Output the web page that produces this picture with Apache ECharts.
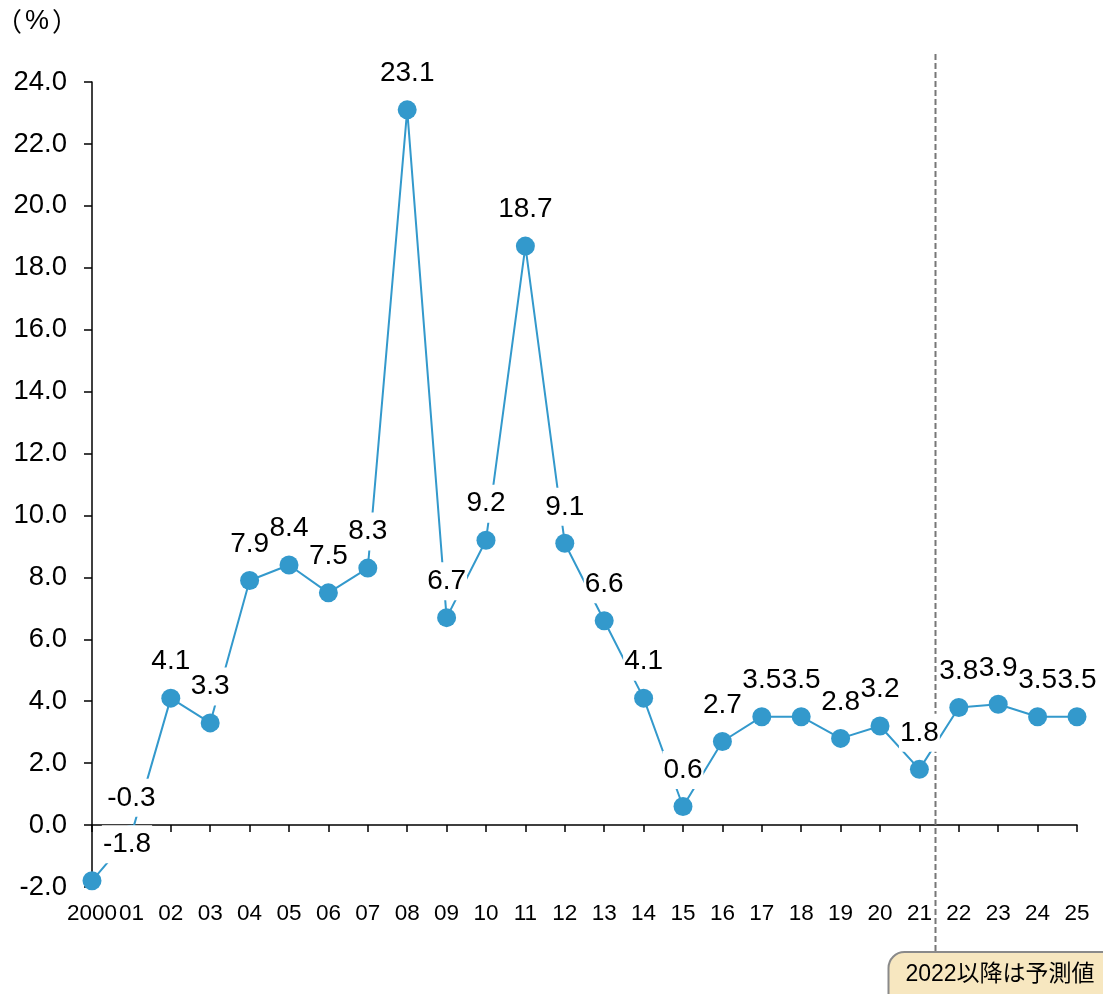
<!DOCTYPE html>
<html>
<head>
<meta charset="utf-8">
<script src="https://cdn.jsdelivr.net/npm/echarts@6/dist/echarts.min.js"></script>
<style>
  html, body { margin: 0; padding: 0; background: #fff; }
  #chart { width: 1103px; height: 994px; }
</style>
</head>
<body>
<div id="chart"></div>
<script>
// Year-on-year change (%), 2000–2025; 2022 onward are forecasts
const categories = ['2000', '01', '02', '03', '04', '05', '06', '07', '08', '09', '10',
  '11', '12', '13', '14', '15', '16', '17', '18', '19', '20', '21', '22', '23', '24', '25'];
const values = [-1.8, -0.3, 4.1, 3.3, 7.9, 8.4, 7.5, 8.3, 23.1, 6.7, 9.2,
  18.7, 9.1, 6.6, 4.1, 0.6, 2.7, 3.5, 3.5, 2.8, 3.2, 1.8, 3.8, 3.9, 3.5, 3.5];
const yTicks = { min: -2, max: 24, step: 2 };
const unitText = '{p|（}{u|%}{p|）}';
const forecastText = '2022以降は予測値';
const lastActual = '21';
const firstForecast = '22';

const FONT = "Liberation Sans, Arial, Noto Sans CJK JP, sans-serif";
const CJK_FONT = "Noto Sans CJK JP, Liberation Sans, sans-serif";
const BLUE = '#3399CC';

const chart = echarts.init(document.getElementById('chart'), null, { renderer: 'canvas' });

const option = {
  animation: false,
  backgroundColor: '#fff',
  title: {
    text: unitText,
    left: -4,
    top: 8,
    padding: 0,
    textStyle: {
      rich: {
        p: { fontSize: 26, fontFamily: CJK_FONT, color: '#000', fontWeight: 'normal' },
        u: { fontSize: 27, fontFamily: FONT, color: '#000', fontWeight: 'normal', padding: [0, 3, 0, 3] }
      }
    }
  },
  grid: { left: 92, right: 26, top: 82, bottom: 107, containLabel: false },
  xAxis: [
    {
      type: 'category',
      data: categories,
      boundaryGap: false,
      position: 'bottom',
      axisLine: { show: false, onZero: false },
      axisTick: { show: false },
      axisLabel: { color: '#000', fontSize: 22.5, fontFamily: FONT, margin: 16, interval: 0 },
      splitLine: { show: false }
    },
    {
      type: 'category',
      data: categories,
      boundaryGap: false,
      position: 'bottom',
      axisLine: { show: true, onZero: true, lineStyle: { color: '#000', width: 1.5 } },
      axisTick: { show: true, length: 7, interval: 0, lineStyle: { color: '#000', width: 1.5 } },
      axisLabel: { show: false },
      splitLine: { show: false }
    }
  ],
  yAxis: {
    type: 'value',
    min: yTicks.min,
    max: yTicks.max,
    interval: yTicks.step,
    axisLine: { show: true, onZero: false, lineStyle: { color: '#000', width: 1.5 } },
    axisTick: { show: true, length: 8, lineStyle: { color: '#000', width: 1.5 } },
    axisLabel: {
      color: '#000', fontSize: 27.5, fontFamily: FONT, margin: 25,
      formatter: v => v.toFixed(1)
    },
    splitLine: { show: false }
  },
  series: [
    {
      type: 'line',
      xAxisIndex: 0,
      yAxisIndex: 0,
      data: values,
      z: 3,
      symbol: 'circle',
      symbolSize: 19,
      lineStyle: { color: BLUE, width: 2 },
      itemStyle: { color: BLUE },
      label: {
        show: true,
        position: 'top',
        distance: 8,
        color: '#000',
        fontSize: 28,
        fontFamily: FONT,
        backgroundColor: '#fff',
        padding: [5, 1, 5, 1],
        formatter: p => p.value.toFixed(1)
      },
      // the first year's label sits to the upper right of its point
      labelLayout: p => (p.dataIndex === 0 ? { dx: 35 } : {})
    }
  ]
};

chart.setOption(option);

// Forecast boundary and annotation, placed from the category scale
const x21 = chart.convertToPixel({ xAxisIndex: 0 }, lastActual);
const x22 = chart.convertToPixel({ xAxisIndex: 0 }, firstForecast);
const dashX = Math.round(x21 + (x22 - x21) * 0.4) + 0.5;

chart.setOption({
  graphic: [
    {
      type: 'line',
      z: 1,
      shape: { x1: dashX, y1: 54, x2: dashX, y2: 960 },
      style: { stroke: '#777', lineWidth: 2, lineDash: [6, 3] }
    },
    {
      type: 'rect',
      z: 5,
      shape: { x: dashX - 47, y: 952, width: 240, height: 70, r: 16 },
      style: { fill: '#F7E7C0', stroke: '#8A8A8A', lineWidth: 2 }
    },
    {
      type: 'text',
      z: 6,
      x: 1000,
      y: 975,
      style: {
        text: forecastText,
        fill: '#000',
        fontSize: 23,
        fontFamily: FONT,
        align: 'center',
        verticalAlign: 'middle'
      }
    }
  ]
});
</script>
</body>
</html>
